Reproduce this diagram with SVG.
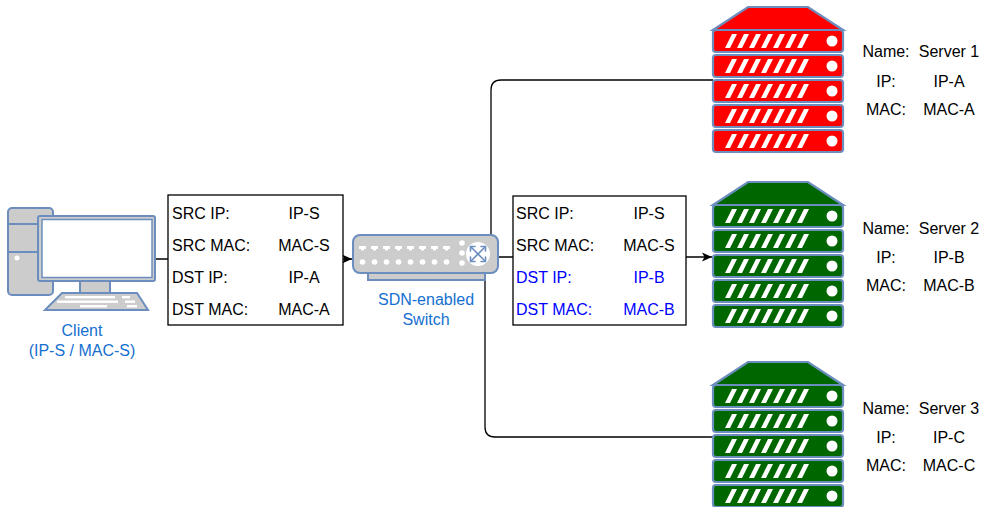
<svg xmlns="http://www.w3.org/2000/svg" xmlns:xlink="http://www.w3.org/1999/xlink" width="992" height="507" viewBox="0 0 992 507">
  <style>
    text { font-family: "Liberation Sans", Arial, sans-serif; font-size: 16px; fill: #000; }
    .lbl { fill: #1570D0; text-anchor: middle; }
    .mid { text-anchor: middle; }
    .blue { fill: #0000FF; }
    .icon { fill: #CCCCCC; stroke: #6C8EBF; stroke-width: 2; }
    .edge { fill: none; stroke: #000; stroke-width: 1.3; }
    .pkt { fill: #FFFFFF; stroke: #000; stroke-width: 1.3; }
    .slab { stroke: #6C8EBF; stroke-width: 2.2; }
  </style>
  <defs>
    <marker id="arrow" viewBox="0 0 10 10" refX="10" refY="5" markerWidth="10" markerHeight="10" markerUnits="userSpaceOnUse" orient="auto">
      <path d="M0,0.5 L10,5 L0,9.5 L2.5,5 Z" fill="#000"/>
    </marker>
    <!-- one rack unit: slab, slanted vents and power LED -->
    <g id="unit">
      <rect class="slab" x="0" y="0" width="130" height="22" rx="3"/>
      <path fill="#FFFFFF" d="M12,18 L17,18 L24,4 L19,4 Z M24,18 L29,18 L36,4 L31,4 Z M36,18 L41,18 L48,4 L43,4 Z M48,18 L53,18 L60,4 L55,4 Z M60,18 L65,18 L72,4 L67,4 Z M72,18 L77,18 L84,4 L79,4 Z M84,18 L89,18 L96,4 L91,4 Z"/>
      <circle cx="119" cy="11" r="5.5" fill="#FFFFFF"/>
    </g>
    <!-- full rack: bevelled top and five units; fill comes from the <use> -->
    <g id="rack">
      <path class="slab" d="M35,0 L95,0 L130,23 L0,23 Z"/>
      <use xlink:href="#unit" href="#unit" y="23"/>
      <use xlink:href="#unit" href="#unit" y="48"/>
      <use xlink:href="#unit" href="#unit" y="73"/>
      <use xlink:href="#unit" href="#unit" y="98"/>
      <use xlink:href="#unit" href="#unit" y="123"/>
    </g>
  </defs>

  <rect width="992" height="507" fill="#FFFFFF"/>

  <g id="connectors">
    <path class="edge" d="M155,259 L352,259" marker-end="url(#arrow)"/>
    <path class="edge" d="M498,257 L712,257" marker-end="url(#arrow)"/>
    <path class="edge" d="M491,235 L491,90 Q491,80 501,80 L713,80"/>
    <path class="edge" d="M485,280 L485,427 Q485,437 495,437 L713,437"/>
  </g>

  <g id="client">
    <rect class="icon" x="8" y="208" width="45" height="87" rx="4"/>
    <line x1="8" y1="224" x2="40" y2="224" stroke="#6C8EBF" stroke-width="2"/>
    <line x1="8" y1="252" x2="40" y2="252" stroke="#6C8EBF" stroke-width="2"/>
    <circle cx="17" cy="258" r="2.5" fill="#FFFFFF"/>
    <rect class="icon" x="38" y="216" width="117" height="65" rx="2"/>
    <rect x="42" y="219.5" width="110" height="58" fill="#FFFFFF" stroke="#6C8EBF" stroke-width="1.5"/>
    <rect class="icon" x="80" y="281" width="30" height="12"/>
    <path class="icon" d="M62,293 L137,293 L148,310 L45,310 Z"/>
    <g fill="#FFFFFF">
      <rect x="65" y="296" width="50" height="2.4"/>
      <rect x="122" y="296" width="8" height="2.4"/>
      <rect x="57" y="300.5" width="61" height="2.4"/>
      <rect x="125" y="300.5" width="10" height="2.4"/>
      <rect x="80" y="305" width="27" height="2.4"/>
      <rect x="127" y="305" width="10" height="2.4"/>
    </g>
    <text class="lbl" x="82" y="336">Client</text>
    <text class="lbl" x="82" y="356">(IP-S / MAC-S)</text>
  </g>

  <g id="packet-in">
    <rect class="pkt" x="168" y="195" width="175" height="130"/>
    <text x="172" y="219">SRC IP:</text>
    <text x="172" y="251">SRC MAC:</text>
    <text x="172" y="283">DST IP:</text>
    <text x="172" y="315">DST MAC:</text>
    <text class="mid" x="304" y="219">IP-S</text>
    <text class="mid" x="304" y="251">MAC-S</text>
    <text class="mid" x="304" y="283">IP-A</text>
    <text class="mid" x="304" y="315">MAC-A</text>
  </g>

  <g id="switch">
    <rect class="icon" x="368" y="268" width="117" height="12" stroke-width="1.6"/>
    <rect class="icon" x="353" y="235" width="145" height="38" rx="7" stroke-width="2.5"/>
    <g fill="#FFFFFF">
      <path d="M359,246 h7 v3 h-2 v1.5 h-3 v-1.5 h-2 Z M371,246 h7 v3 h-2 v1.5 h-3 v-1.5 h-2 Z M383,246 h7 v3 h-2 v1.5 h-3 v-1.5 h-2 Z M395,246 h7 v3 h-2 v1.5 h-3 v-1.5 h-2 Z M407,246 h7 v3 h-2 v1.5 h-3 v-1.5 h-2 Z M419,246 h7 v3 h-2 v1.5 h-3 v-1.5 h-2 Z M431,246 h7 v3 h-2 v1.5 h-3 v-1.5 h-2 Z M443,246 h7 v3 h-2 v1.5 h-3 v-1.5 h-2 Z"/>
      <circle cx="362.5" cy="262" r="2.8"/>
      <circle cx="374.5" cy="262" r="2.8"/>
      <circle cx="386.5" cy="262" r="2.8"/>
      <circle cx="398.5" cy="262" r="2.8"/>
      <circle cx="410.5" cy="262" r="2.8"/>
      <circle cx="422.5" cy="262" r="2.8"/>
      <circle cx="434.5" cy="262" r="2.8"/>
      <circle cx="446.5" cy="262" r="2.8"/>
      <circle cx="462" cy="243" r="2.8"/>
      <circle cx="462" cy="253" r="2.8"/>
      <circle cx="462" cy="263" r="2.8"/>
      <circle cx="478" cy="254" r="12"/>
    </g>
    <g stroke="#6C8EBF" stroke-width="1.6" fill="none" stroke-linecap="round">
      <line x1="471" y1="247" x2="485" y2="261"/>
      <line x1="485" y1="247" x2="471" y2="261"/>
      <path d="M470.5,251 L470.5,246.5 L475,246.5"/>
      <path d="M481,246.5 L485.5,246.5 L485.5,251"/>
      <path d="M470.5,257 L470.5,261.5 L475,261.5"/>
      <path d="M481,261.5 L485.5,261.5 L485.5,257"/>
    </g>
    <text class="lbl" x="426" y="305">SDN-enabled</text>
    <text class="lbl" x="426" y="325">Switch</text>
  </g>

  <g id="packet-out">
    <rect class="pkt" x="513" y="196" width="173" height="129"/>
    <text x="516" y="219">SRC IP:</text>
    <text x="516" y="251">SRC MAC:</text>
    <text class="blue" x="516" y="283">DST IP:</text>
    <text class="blue" x="516" y="315">DST MAC:</text>
    <text class="mid" x="649" y="219">IP-S</text>
    <text class="mid" x="649" y="251">MAC-S</text>
    <text class="mid blue" x="649" y="283">IP-B</text>
    <text class="mid blue" x="649" y="315">MAC-B</text>
  </g>

  <g id="server-1">
    <use xlink:href="#rack" href="#rack" x="713" y="7" fill="#FF0000"/>
    <text class="mid" x="886" y="57">Name:</text>
    <text class="mid" x="949" y="57">Server 1</text>
    <text class="mid" x="886" y="87">IP:</text>
    <text class="mid" x="949" y="87">IP-A</text>
    <text class="mid" x="886" y="115">MAC:</text>
    <text class="mid" x="949" y="115">MAC-A</text>
  </g>

  <g id="server-2">
    <use xlink:href="#rack" href="#rack" x="713" y="182" fill="#006600"/>
    <text class="mid" x="886" y="234">Name:</text>
    <text class="mid" x="949" y="234">Server 2</text>
    <text class="mid" x="886" y="263">IP:</text>
    <text class="mid" x="949" y="263">IP-B</text>
    <text class="mid" x="886" y="291">MAC:</text>
    <text class="mid" x="949" y="291">MAC-B</text>
  </g>

  <g id="server-3">
    <use xlink:href="#rack" href="#rack" x="713" y="362" fill="#006600"/>
    <text class="mid" x="886" y="414">Name:</text>
    <text class="mid" x="949" y="414">Server 3</text>
    <text class="mid" x="886" y="443">IP:</text>
    <text class="mid" x="949" y="443">IP-C</text>
    <text class="mid" x="886" y="471">MAC:</text>
    <text class="mid" x="949" y="471">MAC-C</text>
  </g>
</svg>
